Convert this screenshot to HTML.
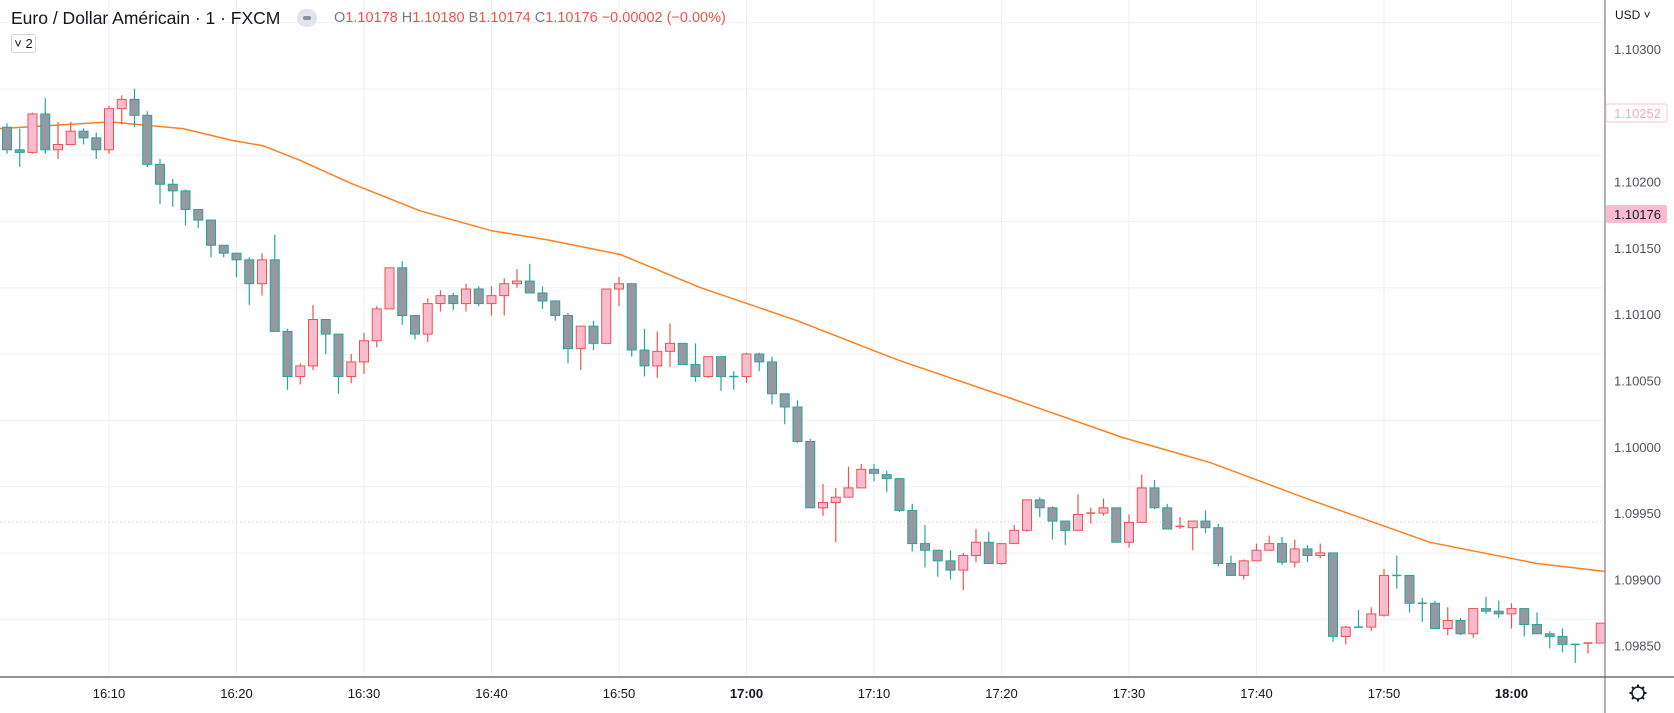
<!DOCTYPE html>
<html><head><meta charset="utf-8">
<style>
html,body{margin:0;padding:0;background:#fff;overflow:hidden}
body{width:1674px;height:713px;position:relative;font-family:"Liberation Sans",sans-serif}
svg{position:absolute;left:0;top:0}
.hdr{position:absolute;left:11px;top:8px;font-size:17.5px;color:#131722;white-space:nowrap}
.ohlc{position:absolute;left:334px;top:10px;font-size:14.5px;color:#787b86;white-space:nowrap}
.ohlc span{color:#ef5350}
.pill{position:absolute;left:297px;top:9px;width:20px;height:18px;border-radius:9px;background:#e0e3eb}
.pill:after{content:"";position:absolute;left:6px;top:7px;width:8px;height:4px;background:#8a8d96;border-radius:2px}
.badge{position:absolute;left:11px;top:34px;width:25px;height:19px;border:1px solid #d1d4dc;border-radius:3px;font-size:13px;color:#131722;background:#fff;box-sizing:border-box;line-height:17px;text-align:center}
</style></head>
<body>
<svg id="chart" width="1674" height="713"></svg>
<div class="hdr">Euro / Dollar Américain · 1 · FXCM</div>
<div class="pill"></div>
<div class="ohlc">O<span>1.10178</span> H<span>1.10180</span> B<span>1.10174</span> C<span>1.10176 −0.00002 (−0.00%)</span></div>
<div class="badge">˅ 2</div>
<script>
const opens=[1.10241,1.10224,1.10222,1.10251,1.10224,1.10228,1.10238,1.10233,1.10224,1.10255,1.10262,1.10250,1.10213,1.10198,1.10193,1.10179,1.10171,1.10152,1.10146,1.10141,1.10123,1.10141,1.10087,1.10053,1.10061,1.10096,1.10085,1.10053,1.10064,1.10080,1.10104,1.10135,1.10099,1.10085,1.10108,1.10114,1.10108,1.10119,1.10108,1.10114,1.10123,1.10125,1.10116,1.10110,1.10099,1.10074,1.10091,1.10078,1.10119,1.10123,1.10073,1.10061,1.10072,1.10078,1.10062,1.10053,1.10068,1.10053,1.10053,1.10070,1.10064,1.10040,1.10030,1.10004,1.09954,1.09958,1.09962,1.09969,1.09983,1.09979,1.09976,1.09952,1.09927,1.09922,1.09914,1.09907,1.09918,1.09928,1.09912,1.09927,1.09937,1.09960,1.09954,1.09944,1.09937,1.09949,1.09950,1.09954,1.09928,1.09943,1.09969,1.09954,1.09939,1.09939,1.09944,1.09939,1.09912,1.09903,1.09914,1.09922,1.09927,1.09913,1.09923,1.09918,1.09920,1.09857,1.09864,1.09864,1.09873,1.09903,1.09903,1.09882,1.09882,1.09863,1.09869,1.09859,1.09878,1.09876,1.09874,1.09878,1.09866,1.09859,1.09857,1.09851,1.09851,1.09852];
const highs=[1.10244,1.10240,1.10252,1.10263,1.10245,1.10245,1.10240,1.10237,1.10257,1.10265,1.10270,1.10253,1.10217,1.10202,1.10194,1.10179,1.10171,1.10152,1.10146,1.10143,1.10146,1.10160,1.10089,1.10063,1.10107,1.10096,1.10085,1.10070,1.10086,1.10106,1.10135,1.10140,1.10099,1.10112,1.10118,1.10116,1.10123,1.10121,1.10121,1.10127,1.10134,1.10138,1.10121,1.10110,1.10101,1.10091,1.10095,1.10119,1.10128,1.10123,1.10089,1.10087,1.10093,1.10078,1.10078,1.10068,1.10068,1.10057,1.10071,1.10071,1.10068,1.10040,1.10035,1.10006,1.09972,1.09969,1.09985,1.09987,1.09987,1.09982,1.09976,1.09957,1.09941,1.09922,1.09922,1.09920,1.09938,1.09936,1.09927,1.09941,1.09960,1.09962,1.09955,1.09944,1.09964,1.09954,1.09961,1.09954,1.09949,1.09979,1.09975,1.09957,1.09947,1.09944,1.09952,1.09942,1.09918,1.09915,1.09927,1.09933,1.09932,1.09930,1.09926,1.09927,1.09920,1.09865,1.09877,1.09879,1.09908,1.09918,1.09903,1.09886,1.09884,1.09879,1.09871,1.09878,1.09887,1.09884,1.09882,1.09878,1.09875,1.09861,1.09863,1.09851,1.09852,1.09867];
const lows=[1.10221,1.10211,1.10221,1.10221,1.10217,1.10228,1.10228,1.10217,1.10221,1.10243,1.10241,1.10211,1.10183,1.10181,1.10167,1.10165,1.10143,1.10143,1.10128,1.10107,1.10114,1.10087,1.10043,1.10047,1.10058,1.10070,1.10040,1.10048,1.10055,1.10075,1.10104,1.10092,1.10081,1.10079,1.10102,1.10103,1.10102,1.10106,1.10099,1.10099,1.10120,1.10116,1.10104,1.10095,1.10063,1.10058,1.10073,1.10078,1.10106,1.10068,1.10053,1.10052,1.10060,1.10062,1.10049,1.10052,1.10042,1.10043,1.10048,1.10057,1.10032,1.10017,1.10003,1.09954,1.09948,1.09928,1.09962,1.09969,1.09974,1.09966,1.09951,1.09921,1.09909,1.09902,1.09900,1.09892,1.09913,1.09912,1.09911,1.09927,1.09936,1.09947,1.09930,1.09926,1.09937,1.09942,1.09948,1.09928,1.09924,1.09943,1.09953,1.09938,1.09938,1.09922,1.09935,1.09910,1.09903,1.09900,1.09914,1.09922,1.09911,1.09909,1.09913,1.09916,1.09853,1.09851,1.09864,1.09861,1.09872,1.09893,1.09875,1.09868,1.09863,1.09858,1.09858,1.09856,1.09874,1.09871,1.09863,1.09857,1.09859,1.09848,1.09845,1.09837,1.09844,1.09852];
const closes=[1.10224,1.10222,1.10251,1.10224,1.10228,1.10238,1.10233,1.10224,1.10255,1.10262,1.10250,1.10213,1.10198,1.10193,1.10179,1.10171,1.10152,1.10146,1.10141,1.10123,1.10141,1.10087,1.10053,1.10061,1.10096,1.10085,1.10053,1.10064,1.10080,1.10104,1.10135,1.10099,1.10085,1.10108,1.10114,1.10108,1.10119,1.10108,1.10114,1.10123,1.10125,1.10116,1.10110,1.10099,1.10074,1.10091,1.10078,1.10119,1.10123,1.10073,1.10061,1.10072,1.10078,1.10062,1.10053,1.10068,1.10053,1.10053,1.10070,1.10064,1.10040,1.10030,1.10004,1.09954,1.09958,1.09962,1.09969,1.09983,1.09980,1.09976,1.09952,1.09927,1.09922,1.09914,1.09907,1.09918,1.09928,1.09912,1.09927,1.09937,1.09960,1.09954,1.09944,1.09937,1.09949,1.09950,1.09954,1.09928,1.09943,1.09969,1.09954,1.09938,1.09940,1.09944,1.09939,1.09912,1.09903,1.09914,1.09922,1.09927,1.09913,1.09923,1.09918,1.09920,1.09857,1.09864,1.09864,1.09874,1.09903,1.09903,1.09882,1.09882,1.09863,1.09869,1.09859,1.09878,1.09876,1.09874,1.09878,1.09866,1.09859,1.09857,1.09851,1.09851,1.09852,1.09867];
const emaIdx=[-0.55,8.1,13.8,17.7,20.1,23,26.9,32.4,38,42.4,48.1,54.4,62,70,79.2,87.5,94.4,102.2,111.6,120,125.3];
const emaVal=[1.10240,1.10245,1.10240,1.10231,1.10227,1.10216,1.10199,1.10178,1.10163,1.10156,1.10145,1.10120,1.10095,1.10065,1.10035,1.10007,1.09988,1.09960,1.09928,1.09912,1.09906];
const priceTicks=["1.10300","1.10200","1.10150","1.10100","1.10050","1.10000","1.09950","1.09900","1.09850"];
const timeTicks=["16:10","16:20","16:30","16:40","16:50","17:00","17:10","17:20","17:30","17:40","17:50","18:00"];

const NS="http://www.w3.org/2000/svg";
const svg=document.getElementById('chart');
const xOf=i=>109+12.75*(i-8);
const yOf=p=>49+(1.103-p)*132600;
function mk(tag,attrs,parent){const e=document.createElementNS(NS,tag);for(const k in attrs)e.setAttribute(k,attrs[k]);(parent||svg).appendChild(e);return e;}

const grid=mk('g',{});


for(let k=0;k<12;k++){const x=109+127.5*k;const l=mk('line',{x1:x,x2:x,y1:0,y2:677,stroke:'#edf0f6','stroke-width':1},grid);

}
const hy=[];for(let k=-1;k<9;k++)hy.push(89+66.3*k);
hy.forEach(y=>{const l=mk('line',{x1:0,x2:1605,y1:y,y2:y,stroke:'#edf0f6','stroke-width':1},grid);

});

const dl=mk('line',{x1:0,x2:1605,y1:522,y2:522,stroke:'#f4b6c2','stroke-width':1,'stroke-dasharray':'1 3'});



let pts=emaIdx.map((i,k)=>xOf(i).toFixed(1)+','+yOf(emaVal[k]).toFixed(1)).join(' ');
const ema=mk('polyline',{points:pts,fill:'none',stroke:'#ff7f1f','stroke-width':1.5,'stroke-linejoin':'round'});



for(let i=0;i<opens.length;i++){
  const up=closes[i]>opens[i];
  const border=up?'#ef5350':'#26a69a', fill=up?'#f8bbd0':'#9598a1';
  const x=xOf(i);
  const g=mk('g',{});
  
  
  mk('line',{x1:x,x2:x,y1:yOf(highs[i]),y2:yOf(lows[i]),stroke:border,'stroke-width':1.2},g);
  const top=yOf(Math.max(opens[i],closes[i])), bot=yOf(Math.min(opens[i],closes[i]));
  const h=Math.max(1,bot-top);
  if(h<=1.5){mk('line',{x1:x-4.5,x2:x+4.5,y1:top,y2:top,stroke:border,'stroke-width':1.5},g);}
  else mk('rect',{x:x-4.5,y:top,width:9,height:h,fill:fill,stroke:border,'stroke-width':1},g);
}

const ax=mk('line',{x1:1605,x2:1605,y1:0,y2:713,stroke:'#9598a1','stroke-width':1.5});


const bx=mk('line',{x1:0,x2:1674,y1:677,y2:677,stroke:'#50535e','stroke-width':1.2});



priceTicks.forEach(t=>{const y=yOf(parseFloat(t));const e=mk('text',{x:1614,y:y+5,'font-size':13,fill:'#50535e','font-family':'Liberation Sans, sans-serif'});e.textContent=t;

});
timeTicks.forEach((t,k)=>{const bold=(t==='17:00'||t==='18:00');const e=mk('text',{x:109+127.5*k,y:698,'text-anchor':'middle','font-size':13,fill:'#131722','font-weight':bold?'bold':'normal','font-family':'Liberation Sans, sans-serif'});e.textContent=t;

});

const b1=mk('rect',{x:1606,y:104,width:61,height:18,fill:'#fff',stroke:'#f8c7d5',rx:2});


const t1=mk('text',{x:1614,y:118,'font-size':13,fill:'#f4a9bd','font-family':'Liberation Sans, sans-serif'});t1.textContent='1.10252';


const b2=mk('rect',{x:1606,y:205,width:61,height:18,fill:'#f8bbd0',rx:2});


const t2=mk('text',{x:1614,y:219,'font-size':13,fill:'#131722','font-family':'Liberation Sans, sans-serif'});t2.textContent='1.10176';


const cur=mk('text',{x:1615,y:19,'font-size':12,fill:'#131722','font-family':'Liberation Sans, sans-serif'});cur.textContent='USD ˅';



const gear=mk('g',{});


mk('circle',{cx:1638,cy:693,r:6,fill:'none',stroke:'#131722','stroke-width':1.5},gear);
for(let a=0;a<8;a++){const r=a*Math.PI/4;mk('line',{x1:1638+6*Math.cos(r),y1:693+6*Math.sin(r),x2:1638+8.5*Math.cos(r),y2:693+8.5*Math.sin(r),stroke:'#131722','stroke-width':2},gear);}
</script>
</body></html>
